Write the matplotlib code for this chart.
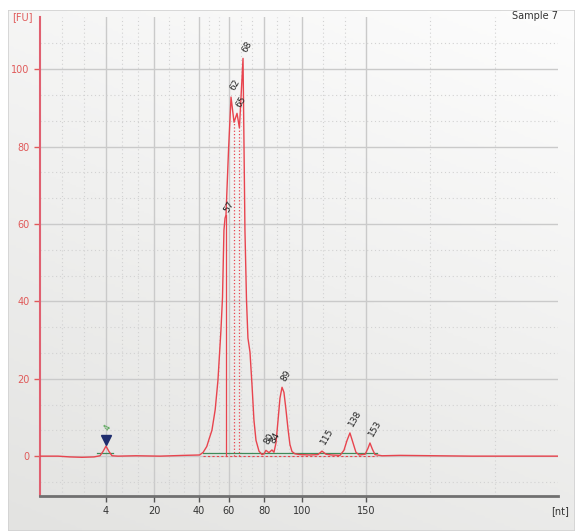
import numpy as np
import matplotlib.pyplot as plt
from matplotlib.colors import LinearSegmentedColormap
from matplotlib.patches import Rectangle

# ladder calibration: migration time (s) of the size standard -> nt
ladder_nt = [4, 20, 40, 60, 80, 100, 150]
ladder_time = [24.5, 28.5, 32.25, 34.75, 37.67, 40.83, 46.17]

# electropherogram trace
trace_time = [19.0, 20.5, 21.5, 22.5, 23.5, 24.0, 24.25, 24.5, 24.75, 25.0,
              25.5, 27.0, 29.0, 31.0, 32.3, 32.6, 32.9, 33.1, 33.33, 33.6,
              33.83, 34.08, 34.21, 34.33, 34.42, 34.5, 34.71, 34.92, 35.17, 35.42,
              35.62, 35.92, 36.08, 36.21, 36.33, 36.5, 36.67, 36.83, 37.0, 37.25,
              37.5, 37.67, 37.83, 38.08, 38.33, 38.5, 38.67, 38.83, 39.0, 39.17,
              39.33, 39.5, 39.67, 39.83, 40.0, 40.25, 40.67, 41.5, 42.17, 42.5,
              42.83, 43.3, 44.0, 44.33, 44.58, 44.83, 45.08, 45.33, 45.6, 46.1,
              46.33, 46.5, 46.7, 46.92, 47.5, 49.0, 52.0, 55.0, 62.17]
trace_fu = [0.0, 0.0, -0.2, -0.3, -0.2, 0.1, 1.2, 2.6, 1.2, 0.1,
            0.0, 0.1, 0.0, 0.2, 0.3, 1.0, 2.5, 4.5, 6.7, 12.0,
            19.6, 32.6, 41.0, 58.4, 61.5, 62.3, 79.0, 92.8, 86.3, 88.6,
            84.8, 102.8, 58.4, 40.3, 30.5, 26.9, 18.3, 9.3, 4.1, 1.3,
            0.4, 0.6, 1.5, 0.9, 1.6, 1.0, 3.5, 9.0, 15.0, 17.8,
            16.5, 12.0, 7.0, 3.0, 1.2, 0.6, 0.4, 0.3, 0.4, 1.3,
            0.5, 0.3, 0.2, 1.5, 4.0, 6.0, 3.5, 1.0, 0.3, 0.5,
            2.0, 3.4, 1.8, 0.4, 0.1, 0.2, 0.1, 0.0, 0.0]

# called peaks
peak_nt = ['57', '62', '65', '68', '80', '84', '89', '115', '138', '153']
peak_time = [34.42, 34.92, 35.42, 35.92, 37.83, 38.33, 39.17, 42.5, 44.83, 46.5]
peak_fu = [61.5, 92.8, 88.6, 102.8, 1.5, 1.6, 17.8, 1.3, 6.0, 3.4]

# lower marker
marker_time = 24.5
marker_fu = 4.3
marker_label = '4'

# peak split lines (valleys) and baseline segments
valley_time = [34.5, 35.17, 35.62]
valley_fu = [62.3, 86.3, 84.8]
valley_style = ['-', ':', ':']
baseline_segments = [(23.75, 25.08), (32.58, 47.08)]
baseline_fu = 0.9

W, H = 575, 531
fig = plt.figure(figsize=(W / 100, H / 100), dpi=100)
fig.patch.set_facecolor('white')

# panel background with soft gradient
bg = fig.add_axes([8 / W, 0, 1 - 8 / W, 521 / H])
yy, xx = np.mgrid[0:1:200j, 0:1:200j]
cmap = LinearSegmentedColormap.from_list('bg', ['#fdfdfd', '#e3e3e1'])
bg.imshow(0.7 * yy + 0.3 * (1 - xx), cmap=cmap, aspect='auto',
          extent=[0, 1, 0, 1], vmin=0, vmax=1)
bg.add_patch(Rectangle((0, 0), 1, 1, transform=bg.transAxes, fill=False,
                       edgecolor='#d2d2d2', lw=1.2))
bg.set_axis_off()

ax = fig.add_axes([40 / W, 35 / H, 518 / W, 479 / H])
ax.set_facecolor('none')
ax.set_xlim(19.0, 62.17)
ax.set_ylim(-10.3, 113.5)

# ticks and grid
ax.set_xticks(ladder_time)
ax.set_xticklabels([str(v) for v in ladder_nt])
minor_x = [20.83, 22.67]
for a, b in zip(ladder_time[:-1], ladder_time[1:]):
    minor_x += [a + (b - a) / 3, a + 2 * (b - a) / 3]
minor_x += [51.5, 56.92]
ax.set_xticks(minor_x, minor=True)
ax.set_yticks([0, 20, 40, 60, 80, 100])
minor_y = [v for v in np.arange(-20 / 3, 113, 20 / 3) if abs(v % 20) > 0.5 and abs(v % 20 - 20) > 0.5]
ax.set_yticks(minor_y, minor=True)

ax.grid(which='major', color='#cacaca', lw=1.0, ls='-', zorder=0)
ax.grid(which='minor', color='#d2d2d2', lw=0.8, ls=(0, (1, 2.5)), zorder=0)
ax.set_axisbelow(True)

ax.tick_params(which='minor', length=0)
ax.tick_params(axis='y', which='major', colors='#e05a5a', labelsize=7, length=4, width=1)
ax.tick_params(axis='x', which='major', colors='#555555', labelcolor='#333333',
               labelsize=7, length=4, width=1)
for side in ['top', 'right']:
    ax.spines[side].set_visible(False)
ax.spines['left'].set_color('#e06070')
ax.spines['left'].set_linewidth(1.5)
ax.spines['bottom'].set_color('#707070')
ax.spines['bottom'].set_linewidth(2)

# baselines
for t0, t1 in baseline_segments:
    ax.plot([t0, t1], [baseline_fu, baseline_fu], color='#3f8a5a', lw=0.9, zorder=2)
ax.plot([32.58, 47.08], [0, 0], color='#e8444e', lw=0.8, ls=(0, (2, 2)), zorder=2)

# peak split lines
for t, f, s in zip(valley_time, valley_fu, valley_style):
    ax.plot([t, t], [0, f], color='#e8444e', lw=0.9, ls=s, zorder=2)

# trace
ax.plot(trace_time, trace_fu, color='#e8444e', lw=1.0, zorder=3)

# marker
ax.plot([marker_time], [marker_fu], marker='v', ms=7, color='#1f2d6e', zorder=4)
ax.annotate(marker_label, (marker_time, marker_fu + 1.5), xytext=(0.5, 3),
            textcoords='offset points', rotation=60, rotation_mode='anchor',
            ha='left', va='center', fontsize=5.5, color='#3a9a3a')

# peak labels
for lbl, t, f in zip(peak_nt, peak_time, peak_fu):
    ax.annotate(lbl, (t, f), xytext=(0.5, 5), textcoords='offset points',
                rotation=60, rotation_mode='anchor', ha='left', va='center',
                fontsize=6.5, color='#222222', zorder=5)

fig.text(22 / W, 1 - 17 / H, '[FU]', color='#e05a5a', fontsize=7, ha='center', va='center')
fig.text(535 / W, 1 - 16 / H, 'Sample 7', color='#333333', fontsize=7, ha='center', va='center')
fig.text(560 / W, 1 - 511 / H, '[nt]', color='#333333', fontsize=7, ha='center', va='center')

fig.savefig('out.png', dpi=100)
